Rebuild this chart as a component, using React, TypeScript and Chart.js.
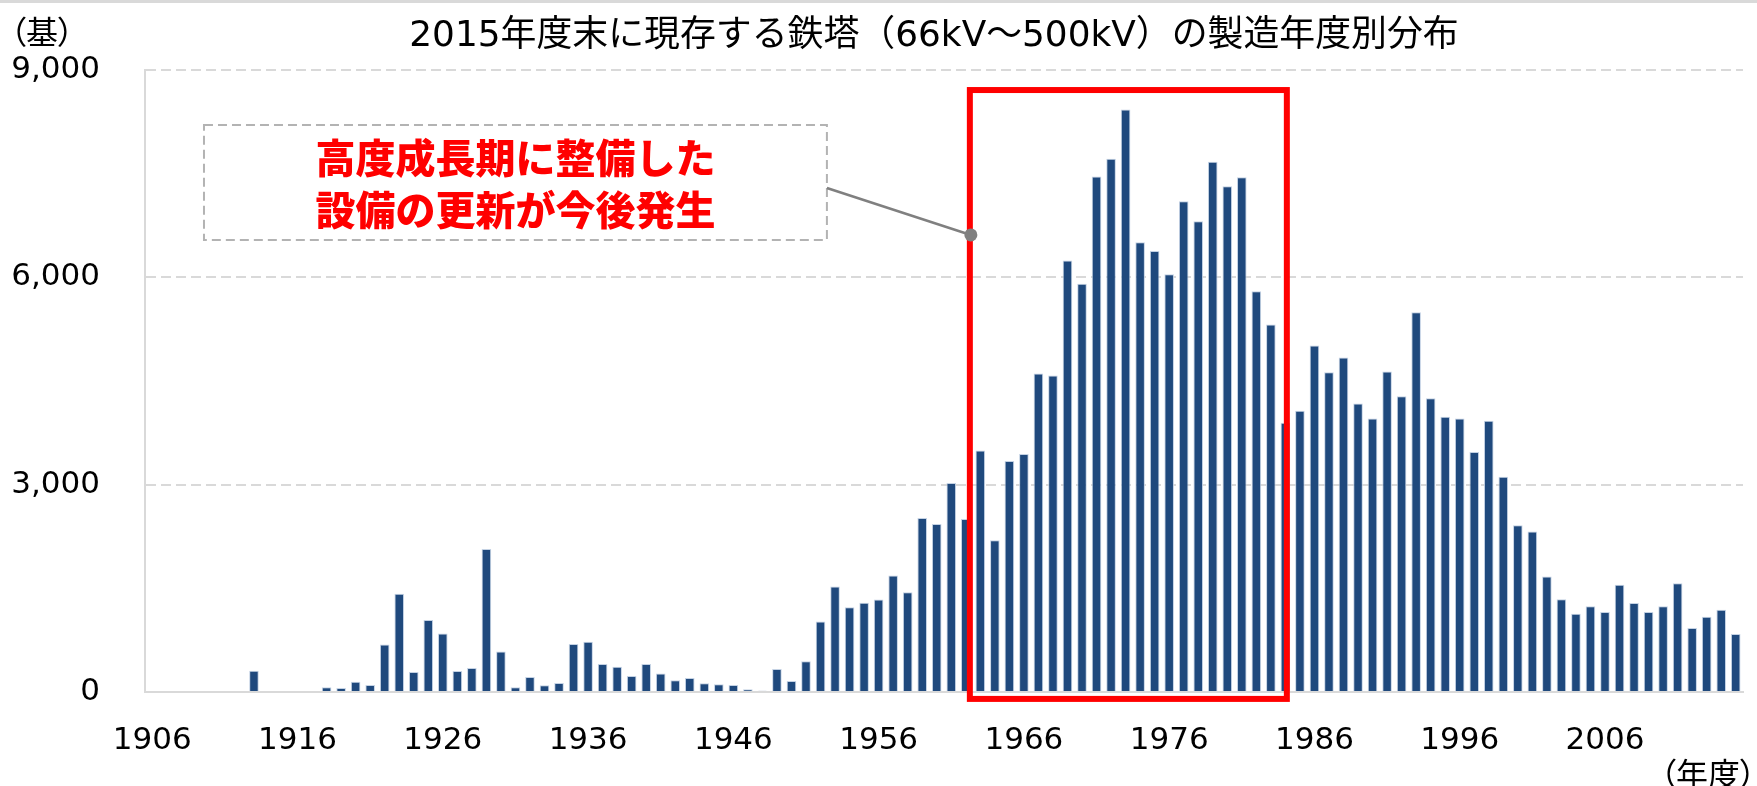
import React, { useEffect, useRef } from "react";
import { Chart, registerables } from "chart.js";

Chart.register(...registerables);

// ---------- data ----------
const START_YEAR = 1906;
const years: string[] = Array.from({ length: 110 }, (_, i) => String(START_YEAR + i));

// number of towers by year of manufacture (1906 .. 2015)
const towerCounts: number[] = [
  // 1906-1915
  0, 0, 0, 0, 0, 0, 0, 309, 15, 0,
  // 1916-1925
  0, 0, 68, 58, 150, 101, 686, 1420, 290, 1043,
  // 1926-1935
  845, 304, 348, 2068, 585, 68, 217, 97, 130, 696,
  // 1936-1945
  727, 406, 367, 232, 406, 266, 169, 203, 126, 111,
  // 1946-1955
  101, 39, 19, 333, 159, 444, 1019, 1527, 1227, 1290,
  // 1956-1965
  1338, 1686, 1444, 2517, 2430, 3024, 2502, 3493, 2195, 3343,
  // 1966-1975
  3444, 4609, 4580, 6242, 5908, 7459, 7715, 8430, 6507, 6382,
  // 1976-1985
  6044, 7102, 6812, 7672, 7319, 7449, 5800, 5318, 3895, 4068,
  // 1986-1995
  5013, 4628, 4839, 4175, 3958, 4637, 4281, 5494, 4252, 3982,
  // 1996-2005
  3958, 3472, 3925, 3116, 2413, 2321, 1671, 1343, 1132, 1242,
  // 2006-2015
  1156, 1551, 1286, 1156, 1242, 1575, 925, 1088, 1189, 838,
];

const xTickLabels: string[] = ["1906", "1916", "1926", "1936", "1946", "1956", "1966", "1976", "1986", "1996", "2006"];
const yTickValues: number[] = [0, 3000, 6000, 9000];

const TITLE = "2015年度末に現存する鉄塔（66kV～500kV）の製造年度別分布";
const Y_UNIT = "（基）";
const X_UNIT = "（年度）";
const NOTE_LINES: string[] = ["高度成長期に整備した", "設備の更新が今後発生"];

// highlight frame (year position, value) and callout box, in data units
const HIGHLIGHT_YEARS: number[] = [1962.28, 1984.1];
const HIGHLIGHT_VALUES: number[] = [-100, 8710];
const NOTE_BOX_YEARS: number[] = [1909.56, 1952.44];
const NOTE_BOX_VALUES: number[] = [6540, 8204];
const NOTE_LINE_VALUES: number[] = [7727, 6974];
const CONNECTOR_START_VALUE = 7293;
const CONNECTOR_END: number[] = [1962.35, 6613];

const BAR_COLOR = "#1f497d";
const GRID_COLOR = "#d9d9d9";
const LATIN_FONT = '"DejaVu Sans", "Noto Sans CJK JP", sans-serif';
const CJK_FONT = '"Noto Sans CJK JP", "DejaVu Sans", sans-serif';

const overlayPlugin = {
  id: "overlay",
  beforeDraw(chart: any) {
    const ctx = chart.ctx;
    ctx.save();
    ctx.fillStyle = GRID_COLOR;
    ctx.fillRect(0, 0, chart.width, 3);
    // title fitted to reference width
    ctx.fillStyle = "#000";
    ctx.font = `30px ${LATIN_FONT}`;
    const w = ctx.measureText(TITLE).width;
    const size = (30 * 1050) / w;
    ctx.font = `${size}px ${LATIN_FONT}`;
    ctx.textAlign = "center";
    ctx.textBaseline = "alphabetic";
    const { left, right } = chart.chartArea;
    ctx.fillText(TITLE, (left + right) / 2 - 10, 46);
    ctx.restore();
  },
  afterDatasetsDraw(chart: any) {
    const ctx = chart.ctx;
    const xs = chart.scales.x;
    const ys = chart.scales.y;
    const px = (year: number) => xs.getPixelForValue(year - START_YEAR);
    const py = (v: number) => ys.getPixelForValue(v);
    ctx.save();

    // red highlight frame
    ctx.strokeStyle = "#ff0000";
    ctx.lineWidth = 6;
    const rx1 = px(HIGHLIGHT_YEARS[0]);
    const rx2 = px(HIGHLIGHT_YEARS[1]);
    const ry1 = py(HIGHLIGHT_VALUES[1]);
    const ry2 = py(HIGHLIGHT_VALUES[0]);
    ctx.strokeRect(rx1, ry1, rx2 - rx1, ry2 - ry1);

    // callout box
    const bx1 = px(NOTE_BOX_YEARS[0]);
    const bx2 = px(NOTE_BOX_YEARS[1]);
    const by1 = py(NOTE_BOX_VALUES[1]);
    const by2 = py(NOTE_BOX_VALUES[0]);
    ctx.strokeStyle = "#b3b3b3";
    ctx.lineWidth = 2;
    ctx.setLineDash([9, 5]);
    ctx.strokeRect(bx1, by1, bx2 - bx1, by2 - by1);
    ctx.setLineDash([]);

    // connector
    const cx = px(CONNECTOR_END[0]);
    const cy = py(CONNECTOR_END[1]);
    ctx.strokeStyle = "#808080";
    ctx.lineWidth = 2.5;
    ctx.beginPath();
    ctx.moveTo(bx2, py(CONNECTOR_START_VALUE));
    ctx.lineTo(cx, cy);
    ctx.stroke();
    ctx.fillStyle = "#808080";
    ctx.beginPath();
    ctx.arc(cx, cy, 6.5, 0, Math.PI * 2);
    ctx.fill();

    // note text
    ctx.fillStyle = "#ff0000";
    ctx.font = `900 40px ${CJK_FONT}`;
    const tw = ctx.measureText(NOTE_LINES[0]).width;
    const ts = (40 * 400) / tw;
    ctx.font = `900 ${ts}px ${CJK_FONT}`;
    ctx.textAlign = "center";
    ctx.textBaseline = "middle";
    NOTE_LINES.forEach((line, i) => {
      ctx.fillText(line, (bx1 + bx2) / 2, py(NOTE_LINE_VALUES[i]));
    });
    ctx.restore();
  },
};

export default function App() {
  const canvasRef = useRef<HTMLCanvasElement | null>(null);

  useEffect(() => {
    document.body.style.margin = "0";
    const canvas = canvasRef.current;
    if (!canvas) return;
    const chart = new Chart(canvas, {
      type: "bar",
      data: {
        labels: years,
        datasets: [
          {
            data: towerCounts,
            backgroundColor: BAR_COLOR,
            borderColor: "rgba(190,205,225,0.9)",
            borderWidth: 1,
            barPercentage: 0.66,
            categoryPercentage: 1,
          },
        ],
      },
      options: {
        animation: false,
        responsive: false,
        devicePixelRatio: 1,
        layout: { padding: { top: 70, right: 14, left: 0, bottom: 0 } },
        plugins: {
          legend: { display: false },
          title: { display: false },
          tooltip: { enabled: false },
        },
        scales: {
          x: {
            grid: { display: false, drawTicks: false },
            border: { display: true, color: GRID_COLOR, width: 2 },
            ticks: {
              autoSkip: false,
              maxRotation: 0,
              minRotation: 0,
              padding: 30,
              color: "#000",
              font: { family: LATIN_FONT, size: 31 },
              callback: (_v: any, idx: number) => (xTickLabels.includes(years[idx]) ? years[idx] : ""),
            },
            afterFit: (s: any) => {
              s.height = 94;
              s.paddingLeft = 0;
              s.paddingRight = 0;
            },
          },
          y: {
            min: yTickValues[0],
            max: yTickValues[yTickValues.length - 1],
            afterBuildTicks: (s: any) => {
              s.ticks = yTickValues.map((v) => ({ value: v }));
            },
            ticks: {
              padding: 45,
              color: "#000",
              font: { family: LATIN_FONT, size: 31 },
              callback: (v: any) => Number(v).toLocaleString("en-US"),
            },
            grid: { color: GRID_COLOR, lineWidth: 2, drawTicks: false },
            border: { display: true, color: GRID_COLOR, width: 2, dash: [10, 5] },
            afterFit: (s: any) => {
              s.width = 145;
              s.paddingTop = 0;
              s.paddingBottom = 0;
            },
          },
        },
      },
      plugins: [overlayPlugin],
    });
    return () => chart.destroy();
  }, []);

  const unitStyle: React.CSSProperties = {
    position: "absolute",
    fontFamily: CJK_FONT,
    fontSize: "32px",
    lineHeight: "32px",
    fontFeatureSettings: '"palt"',
    color: "#000",
    whiteSpace: "nowrap",
  };

  return (
    <div style={{ position: "relative", width: 1757, height: 786, background: "#fff", overflow: "hidden" }}>
      <canvas ref={canvasRef} width={1757} height={786} style={{ display: "block" }} />
      <div style={{ ...unitStyle, left: 10, top: 14 }}>{Y_UNIT}</div>
      <div style={{ ...unitStyle, right: 1, top: 756 }}>{X_UNIT}</div>
    </div>
  );
}
